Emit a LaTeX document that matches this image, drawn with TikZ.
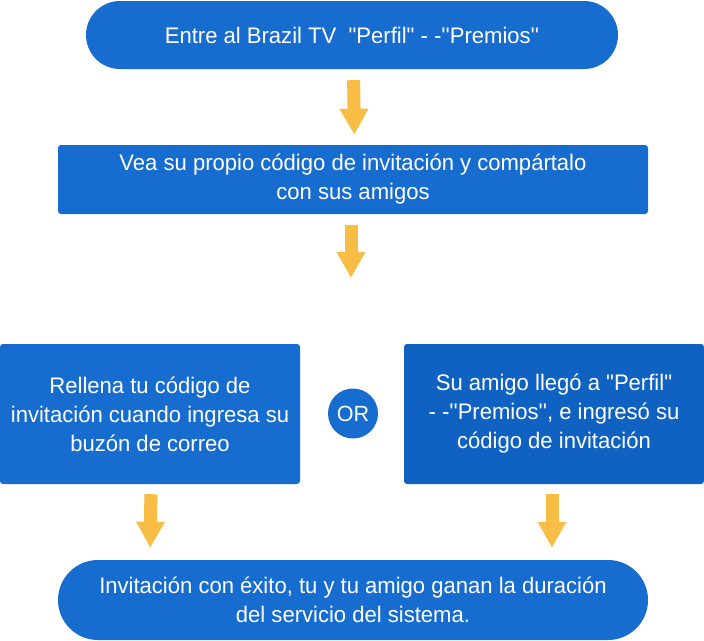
\documentclass[tikz,border=0pt]{standalone}
\usepackage{fontspec}
\newfontfamily\diafont[FakeStretch=0.98]{Liberation Sans}
\usetikzlibrary{arrows.meta}
\definecolor{blueA}{RGB}{23,108,207}
\definecolor{blueB}{RGB}{15,98,194}
\definecolor{arrowY}{RGB}{247,189,69}
\tikzset{
  txt/.style={text=white, font=\diafont\fontsize{22.5}{29}\selectfont, align=center, inner sep=0pt},
  pill/.style={txt, fill=blueA, rounded corners=#1},
  sqbox/.style={txt, fill=#1, rounded corners=3pt},
  yarrow/.style={draw=arrowY, line width=13pt, -{Triangle[length=26pt,width=27pt]}},
}
\begin{document}
\begin{tikzpicture}[x=1pt,y=1pt]
\useasboundingbox (0,0) rectangle (704,-640);
% nodes
\node[pill=34pt, minimum width=532pt, minimum height=68pt] (top) at (352,-35) {Entre al Brazil TV\ \ "Perfil" - -''Premios''};
\node[sqbox=blueA, minimum width=590pt, minimum height=69pt] (step2) at (353,-179.5) {Vea su propio código de invitación y compártalo\\con sus amigos};
\node[sqbox=blueA, minimum width=300pt, minimum height=140pt] (left) at (150,-414) {Rellena tu código de\\invitación cuando ingresa su\\buzón de correo};
\node[sqbox=blueB, minimum width=300pt, minimum height=140pt] (right) at (554,-414) {Su amigo llegó a "Perfil"\\- -''Premios'', e ingresó su\\código de invitación};
\node[circle, fill=blueA, text=white, minimum size=50pt, inner sep=0pt, font=\diafont\fontsize{22}{24}\selectfont] (or) at (353,-413.5) {OR};
\node[pill=40pt, minimum width=590pt, minimum height=80pt] (bottom) at (353,-600) {Invitación con éxito, tu y tu amigo ganan la duración\\del servicio del sistema.};
\coordinate (a2end) at (351,-278);
% arrows
\draw[yarrow, shorten <=11pt, shorten >=10pt] ([xshift=1.5pt]top.south) -- ([xshift=1.5pt]step2.north);
\draw[yarrow] ([xshift=-2pt,yshift=-11pt]step2.south) -- (a2end);
\draw[yarrow, shorten <=10pt, shorten >=12pt] ([xshift=1pt]left.south) -- (left.south |- bottom.north);
\draw[yarrow, shorten <=10pt, shorten >=12pt] ([xshift=-2pt]right.south) -- ([xshift=-2pt]right.south |- bottom.north);
\end{tikzpicture}
\end{document}
